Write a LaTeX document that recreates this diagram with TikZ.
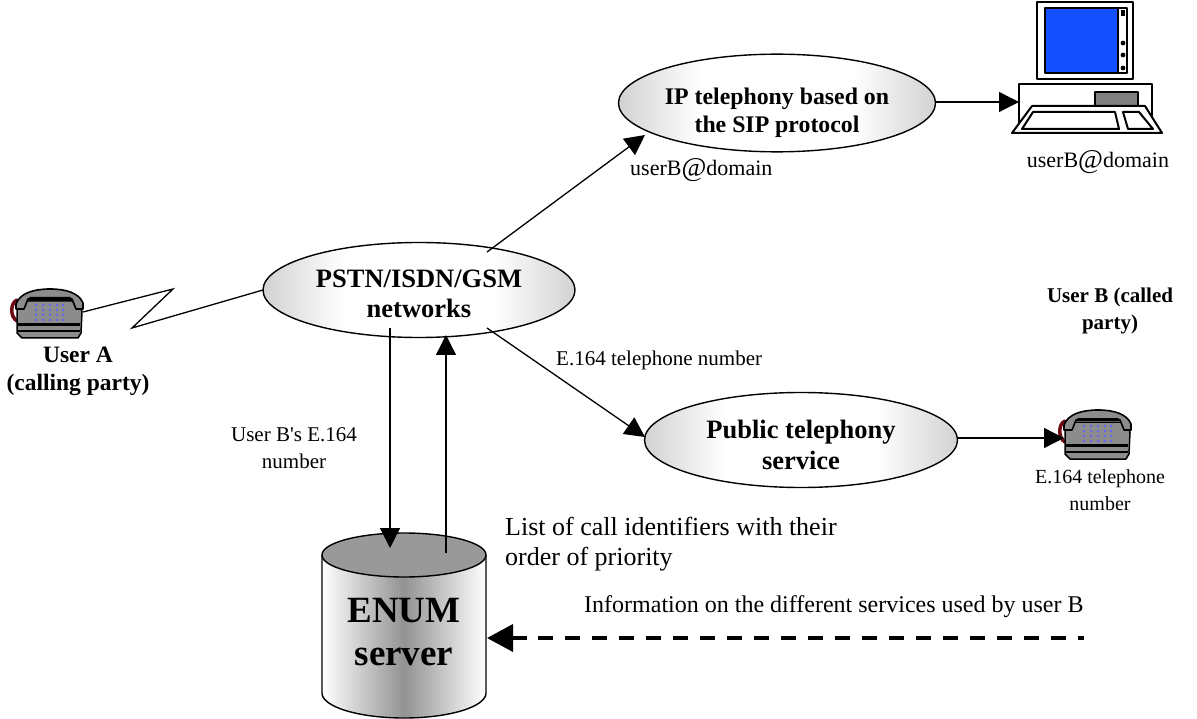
\documentclass[tikz,border=0pt]{standalone}
\usepackage{fontspec}
\setmainfont{Liberation Serif}
\usetikzlibrary{arrows.meta,shapes.geometric,calc}
\definecolor{phonegray}{RGB}{140,140,140}
\definecolor{cordred}{RGB}{110,10,20}
\definecolor{keyblue}{RGB}{100,100,255}
\definecolor{screenblue}{RGB}{20,80,255}
\definecolor{edgegray}{RGB}{165,165,165}
\pgfdeclarehorizontalshading{cloudband}{100bp}{color(0bp)=(edgegray);color(12bp)=(edgegray);color(38bp)=(white);color(62bp)=(white);color(88bp)=(edgegray);color(100bp)=(edgegray)}
\newcommand{\bigat}{{\fontsize{27}{27}\selectfont\raisebox{-1pt}{@}}}
\tikzset{x=1pt,y=-1pt,
 netcloud/.style={ellipse,draw=black,line width=1.4pt,inner sep=0pt,shade,shading=cloudband,align=center},
 lbl/.style={inner sep=0pt,align=center,font=\fontsize{21}{27}\selectfont},
 blbl/.style={inner sep=0pt,align=center,font=\bfseries\fontsize{21}{27}\selectfont},
 conn/.style={line width=1.3pt,-{Triangle[length=20pt,width=20pt]}},
 plain/.style={line width=1.3pt},
 pcline/.style={draw=black,line width=2pt,line join=round}}
\newcommand{\phonepic}[2]{%
 \begin{scope}[shift={(#1,#2)}]
 \draw[cordred,line width=3.5pt,line cap=round] (7,11) .. controls (0,14) and (0,28) .. (7,32);
 \fill[phonegray,draw=black,line width=1.5pt,line join=round] (7,12) -- (67,12) -- (72,22) -- (71,44) -- (68,49) -- (12,49) -- (7,44) -- cycle;
 \fill[black] (8,34) rectangle (70,37);
 \draw[black,line width=1.2pt] (8,42) -- (70,42);
 \fill[phonegray,draw=black,line width=1.6pt,line join=round] (6,15) .. controls (10,4) and (24,0) .. (40,0) .. controls (56,0) and (69,4) .. (73,14) -- (73,20) -- (66,20) -- (62,10) -- (18,10) -- (14,20) -- (6,20) -- cycle;
 \fill[black] (18,10) -- (62,10) -- (60,8) -- (20,8) -- cycle;
 \foreach \kx in {26,33,40,47,53} \foreach \ky in {16,21,26,31} {\fill[keyblue] (\kx,\ky) circle (1.3);}
 \end{scope}}
\begin{document}
\begin{tikzpicture}
\useasboundingbox (0,0) rectangle (1197,719);
\fill[white] (0,0) rectangle (1197,719);

% nodes
\node[netcloud,minimum width=312pt,minimum height=96pt,font=\bfseries\fontsize{23.8}{28}\selectfont] (ip) at (777,103) {\rule{0pt}{36pt}IP telephony based on\\the SIP protocol};
\node[netcloud,minimum width=312pt,minimum height=95pt,font=\bfseries\fontsize{26.5}{30}\selectfont] (pstn) at (419,290) {\rule{0pt}{26pt}PSTN/ISDN/GSM\\networks};
\node[netcloud,minimum width=313pt,minimum height=95pt,font=\bfseries\fontsize{26.5}{31}\selectfont] (pub) at (801,440) {\rule{0pt}{28pt}Public telephony\\service};

% computer
\draw[pcline,fill=white] (1037,2) rectangle (1133,79);
\draw[pcline,fill=screenblue] (1045,8) rectangle (1118,73);
\draw[pcline,fill=white] (1118,8) rectangle (1127,73);
\fill[black] (1121,10) rectangle (1125,16);
\foreach \dy in {43,55,68} \fill[black] (1123,\dy) circle (2.4);
\draw[pcline,fill=white] (1019,84) rectangle (1152,125);
\draw[pcline,fill=gray] (1095,92) rectangle (1138,106);
\draw[pcline,fill=white] (1032,106) -- (1145,106) -- (1162,133) -- (1012,133) -- cycle;
\draw[pcline] (1033,112) -- (1115,112) -- (1119,129) -- (1022,129) -- cycle;
\draw[pcline] (1123,112) -- (1139,112) -- (1153,129) -- (1128,129) -- cycle;
\coordinate (pcin) at (1019,102);
\node[lbl,font=\fontsize{22}{27}\selectfont] (ulabel) at (1098,162) {userB\bigat domain};

% phones
\phonepic{10}{289}
\coordinate (phoneA) at (83,312);
\phonepic{1058}{410}
\coordinate (phoneB) at (1064,438);

% cylinder
\shade[left color=white,right color=white,middle color=gray!85] (322,555) -- (322,693) arc[start angle=180,end angle=0,x radius=82,y radius=25] -- (486,555) -- cycle;
\draw[line width=1.4pt] (322,555) -- (322,693) arc[start angle=180,end angle=0,x radius=82,y radius=25] -- (486,555);
\draw[line width=1.4pt,fill=gray!80] (404,555) ellipse [x radius=82,y radius=22];
\coordinate (dbtop) at (390,548);
\coordinate (dbtop2) at (446,553);
\coordinate (dbright) at (487,638);
\node[inner sep=0pt,align=center,font=\bfseries\fontsize{37}{43}\selectfont] (enum) at (404,632) {ENUM\\server};

% connectors
\coordinate (pw) at (263,290);
\coordinate (z1) at (173,289);
\coordinate (z2) at (132,328);
\draw[plain,line join=miter] (phoneA) -- (z1) -- (z2) -- (pw);
\coordinate (a1) at (487,252);
\coordinate (a2) at (645,135);
\draw[conn] (a1) -- (a2);
\coordinate (b1) at (487,328);
\coordinate (b2) at (645,437);
\draw[conn] (b1) -- (b2);
\draw[conn] (ip.east|-pcin) -- (pcin);
\draw[conn] (pub.east|-phoneB) -- (phoneB);
\coordinate (c1) at (390,328);
\draw[conn] (c1) -- (dbtop);
\coordinate (d1) at (446,335);
\draw[conn] (dbtop2) -- (d1);
\coordinate (e1) at (1084,638);
\coordinate (e2) at (538,638);
\coordinate (e3) at (527,638);
\draw[line width=3.8pt,dash pattern=on 15pt off 12pt] (e2) -- (e1);
\draw[line width=3.8pt,-{Triangle[length=26pt,width=27pt]}] (e3) -- (dbright);

% labels
\node[lbl,anchor=west,font=\fontsize{22}{27}\selectfont] (l1) at (630,170) {userB\bigat domain};
\node[blbl] (l2) at (1110,311) {User B (called\\party)};
\node[blbl,font=\bfseries\fontsize{23.5}{28}\selectfont] (l3) at (78,371) {User A\\(calling party)};
\node[lbl,anchor=west] (l4) at (556,360) {E.164 telephone number};
\node[lbl] (l5) at (294,448) {User B\textquotesingle s E.164\\number};
\node[lbl,font=\fontsize{20}{27}\selectfont] (l6) at (1100,490) {E.164 telephone\\number};
\node[lbl,align=left,anchor=west,font=\fontsize{26}{30}\selectfont] (l7) at (505,544) {List of call identifiers with their\\order of priority};
\node[lbl,anchor=west,font=\fontsize{24}{28}\selectfont] (l8) at (584,607) {Information on the different services used by user B};
\end{tikzpicture}
\end{document}
